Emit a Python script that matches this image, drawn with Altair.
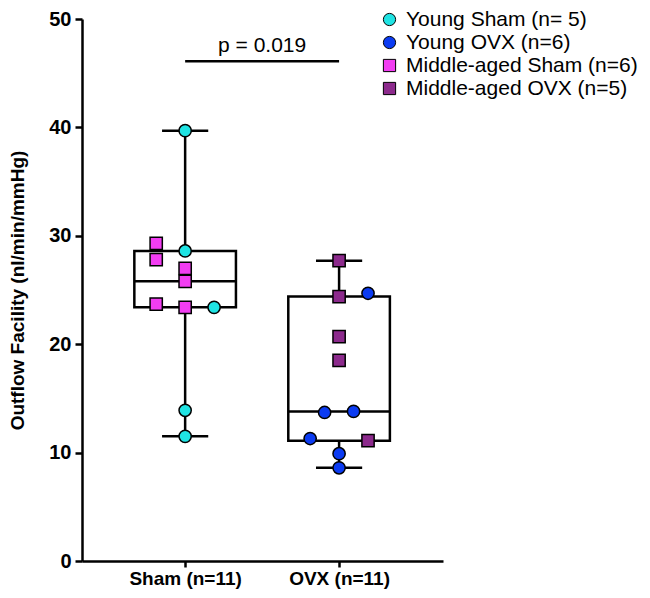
import altair as alt
import numpy as np
import pandas as pd

# ---------------- data ----------------
groups = ["Sham (n=11)", "OVX (n=11)"]
series_names = ["Young Sham (n= 5)", "Young OVX (n=6)", "Middle-aged Sham (n=6)", "Middle-aged OVX (n=5)"]
series_colors = ["#1FE3E3", "#0B3BF2", "#F23DF2", "#8C2A8C"]
series_shapes = ["circle", "circle", "square", "square"]

young_sham = [39.7, 28.6, 23.4, 13.9, 11.5]
young_sham_col = [0, 0, 2, 0, 0]
mid_sham = [29.3, 27.8, 27.0, 25.8, 23.7, 23.4]
mid_sham_col = [-2, -2, 0, 0, -2, 0]
young_ovx = [24.7, 13.7, 13.8, 11.3, 9.9, 8.6]
young_ovx_col = [2, -1, 1, -2, 0, 0]
mid_ovx = [27.7, 24.4, 20.7, 18.5, 11.1]
mid_ovx_col = [0, 0, 0, 0, 2]

p_label = "p = 0.019"
p_height = 46.1

# ---------------- tables ----------------
JIT = 0.094
rows = []
for name, vals, cols, g in [
    (series_names[0], young_sham, young_sham_col, 1),
    (series_names[2], mid_sham, mid_sham_col, 1),
    (series_names[1], young_ovx, young_ovx_col, 2),
    (series_names[3], mid_ovx, mid_ovx_col, 2),
]:
    for v, c in zip(vals, cols):
        rows.append({"series": name, "value": v, "x": g + c * JIT})
pts = pd.DataFrame(rows)

box_rows = []
for g, vals in [(1, young_sham + mid_sham), (2, young_ovx + mid_ovx)]:
    a = np.array(vals)
    q1, med, q3 = np.percentile(a, [25, 50, 75], method="weibull")
    box_rows.append({"g": g, "min": a.min(), "max": a.max(), "q1": q1, "med": med, "q3": q3,
                     "bl": g - 0.33, "br": g + 0.33, "cl": g - 0.15, "cr": g + 0.15})
box = pd.DataFrame(box_rows)

sig = pd.DataFrame({"x1": [1], "x2": [2], "y": [p_height], "xm": [1.5], "ty": [47.0], "label": [p_label]})

FONT = "Liberation Sans"
xscale = alt.Scale(domain=[0.33, 2.675], nice=False, zero=False)
yscale = alt.Scale(domain=[0, 50], nice=False)

label_expr = "[" + ",".join("'" + g + "'" for g in groups) + "][datum.value - 1]"

xaxis = alt.Axis(values=[1, 2], labelExpr=label_expr, title=None, grid=False,
                 domainColor="black", domainWidth=2.5, tickColor="black", tickWidth=2.5,
                 tickSize=6, labelFont=FONT, labelFontSize=19, labelFontWeight="bold",
                 labelColor="black", labelPadding=2, labelBaseline="top")
yaxis = alt.Axis(values=[0, 10, 20, 30, 40, 50], title="Outflow Facility (nl/min/mmHg)", grid=False,
                 domainColor="black", domainWidth=2.5, tickColor="black", tickWidth=2.5,
                 tickSize=7, labelFont=FONT, labelFontSize=20, labelFontWeight="bold",
                 labelColor="black", labelPadding=4, titleFont=FONT, titleFontSize=19,
                 titleFontWeight="bold", titleColor="black", titlePadding=21)

base_box = alt.Chart(box)

whisker = base_box.mark_rule(color="black", strokeWidth=2.5).encode(
    x=alt.X("g:Q", scale=xscale, axis=xaxis),
    y=alt.Y("min:Q", scale=yscale, axis=yaxis),
    y2="max:Q",
)
rect = base_box.mark_rect(fill="white", stroke="black", strokeWidth=2.5).encode(
    x=alt.X("bl:Q", scale=xscale), x2="br:Q",
    y=alt.Y("q1:Q", scale=yscale), y2="q3:Q",
)
median = base_box.mark_rule(color="black", strokeWidth=2.5).encode(
    x=alt.X("bl:Q", scale=xscale), x2="br:Q", y=alt.Y("med:Q", scale=yscale),
)
cap_lo = base_box.mark_rule(color="black", strokeWidth=2.5).encode(
    x=alt.X("cl:Q", scale=xscale), x2="cr:Q", y=alt.Y("min:Q", scale=yscale),
)
cap_hi = base_box.mark_rule(color="black", strokeWidth=2.5).encode(
    x=alt.X("cl:Q", scale=xscale), x2="cr:Q", y=alt.Y("max:Q", scale=yscale),
)

points = alt.Chart(pts).mark_point(filled=True, opacity=1, stroke="black", strokeWidth=1.5).encode(
    x=alt.X("x:Q", scale=xscale),
    y=alt.Y("value:Q", scale=yscale),
    color=alt.Color("series:N", scale=alt.Scale(domain=series_names, range=series_colors),
                    legend=alt.Legend(title=None, orient="none", legendX=297, legendY=-10,
                                      labelFont=FONT, labelFontSize=21, labelColor="black",
                                      labelLimit=400,
                                      symbolSize=70, symbolStrokeColor="black", symbolStrokeWidth=1,
                                      rowPadding=1, labelOffset=6, padding=0)),
    shape=alt.Shape("series:N", scale=alt.Scale(domain=series_names, range=series_shapes)),
    size=alt.Size("series:N", scale=alt.Scale(domain=series_names, range=[150, 150, 185, 185]), legend=None),
)

sig_rule = alt.Chart(sig).mark_rule(color="black", strokeWidth=2.5).encode(
    x=alt.X("x1:Q", scale=xscale), x2="x2:Q", y=alt.Y("y:Q", scale=yscale),
)
sig_text = alt.Chart(sig).mark_text(font=FONT, fontSize=21, color="black", baseline="alphabetic").encode(
    x=alt.X("xm:Q", scale=xscale), y=alt.Y("ty:Q", scale=yscale), text="label:N",
)

chart = alt.layer(whisker, rect, median, cap_lo, cap_hi, points, sig_rule, sig_text).properties(
    width=361, height=542,
    autosize=alt.AutoSizeParams(type="none"),
    padding={"left": 74, "top": 11, "right": 199, "bottom": 28},
).configure_view(stroke=None)

chart.save("out.html", embed_options={"renderer": "svg", "actions": False})
